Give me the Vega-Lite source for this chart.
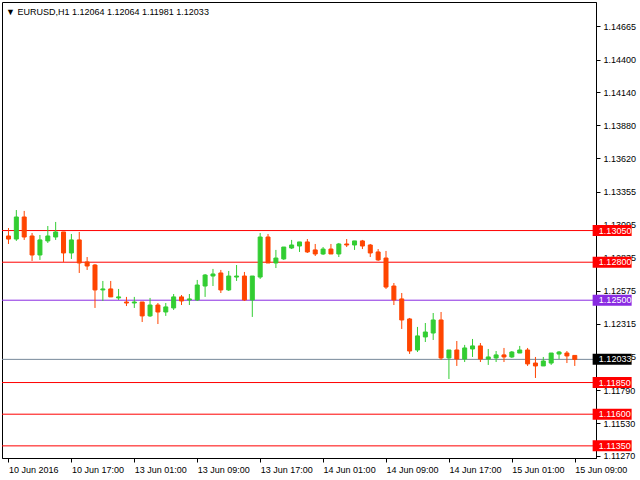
{
  "$schema": "https://vega.github.io/schema/vega-lite/v6.json",
  "width": 594,
  "height": 456,
  "autosize": {"type": "none"},
  "padding": {"left": 2, "top": 2, "right": 44, "bottom": 22},
  "background": "white",
  "title": {
    "text": "▼ EURUSD,H1  1.12064 1.12064 1.11981 1.12033",
    "anchor": "start",
    "orient": "top",
    "frame": "group",
    "offset": -22,
    "baseline": "alphabetic",
    "dx": 4,
    "font": "Liberation Sans",
    "fontSize": 9,
    "fontWeight": "normal",
    "color": "black"
  },
  "datasets": {
    "candles": [
      {"i": 0, "open": 1.13007, "high": 1.13070, "low": 1.12944, "close": 1.12983},
      {"i": 1, "open": 1.12983, "high": 1.13212, "low": 1.12968, "close": 1.13157},
      {"i": 2, "open": 1.13157, "high": 1.13205, "low": 1.12976, "close": 1.12999},
      {"i": 3, "open": 1.13007, "high": 1.13031, "low": 1.12810, "close": 1.12857},
      {"i": 4, "open": 1.12857, "high": 1.13015, "low": 1.12818, "close": 1.12976},
      {"i": 5, "open": 1.12968, "high": 1.13086, "low": 1.12952, "close": 1.13007},
      {"i": 6, "open": 1.12999, "high": 1.13118, "low": 1.12976, "close": 1.13039},
      {"i": 7, "open": 1.13039, "high": 1.13039, "low": 1.12802, "close": 1.12873},
      {"i": 8, "open": 1.12873, "high": 1.13023, "low": 1.12826, "close": 1.12976},
      {"i": 9, "open": 1.12976, "high": 1.13039, "low": 1.12715, "close": 1.12794},
      {"i": 10, "open": 1.12802, "high": 1.12841, "low": 1.12739, "close": 1.12770},
      {"i": 11, "open": 1.12778, "high": 1.12786, "low": 1.12439, "close": 1.12581},
      {"i": 12, "open": 1.12581, "high": 1.12652, "low": 1.12494, "close": 1.12589},
      {"i": 13, "open": 1.12589, "high": 1.12652, "low": 1.12526, "close": 1.12526},
      {"i": 14, "open": 1.12518, "high": 1.12589, "low": 1.12502, "close": 1.12526},
      {"i": 15, "open": 1.12486, "high": 1.12526, "low": 1.12454, "close": 1.12478},
      {"i": 16, "open": 1.12478, "high": 1.12526, "low": 1.12439, "close": 1.12486},
      {"i": 17, "open": 1.12486, "high": 1.12486, "low": 1.12328, "close": 1.12376},
      {"i": 18, "open": 1.12376, "high": 1.12518, "low": 1.12368, "close": 1.12462},
      {"i": 19, "open": 1.12462, "high": 1.12478, "low": 1.12312, "close": 1.12407},
      {"i": 20, "open": 1.12407, "high": 1.12478, "low": 1.12376, "close": 1.12447},
      {"i": 21, "open": 1.12439, "high": 1.12549, "low": 1.12423, "close": 1.12526},
      {"i": 22, "open": 1.12526, "high": 1.12541, "low": 1.12462, "close": 1.12494},
      {"i": 23, "open": 1.12502, "high": 1.12549, "low": 1.12462, "close": 1.12510},
      {"i": 24, "open": 1.12502, "high": 1.12660, "low": 1.12494, "close": 1.12620},
      {"i": 25, "open": 1.12612, "high": 1.12707, "low": 1.12526, "close": 1.12699},
      {"i": 26, "open": 1.12691, "high": 1.12747, "low": 1.12612, "close": 1.12707},
      {"i": 27, "open": 1.12715, "high": 1.12739, "low": 1.12557, "close": 1.12581},
      {"i": 28, "open": 1.12581, "high": 1.12731, "low": 1.12573, "close": 1.12691},
      {"i": 29, "open": 1.12683, "high": 1.12778, "low": 1.12652, "close": 1.12691},
      {"i": 30, "open": 1.12691, "high": 1.12723, "low": 1.12494, "close": 1.12502},
      {"i": 31, "open": 1.12502, "high": 1.12691, "low": 1.12368, "close": 1.12691},
      {"i": 32, "open": 1.12683, "high": 1.13031, "low": 1.12668, "close": 1.12999},
      {"i": 33, "open": 1.12999, "high": 1.13023, "low": 1.12794, "close": 1.12794},
      {"i": 34, "open": 1.12794, "high": 1.12897, "low": 1.12754, "close": 1.12833},
      {"i": 35, "open": 1.12826, "high": 1.12920, "low": 1.12818, "close": 1.12920},
      {"i": 36, "open": 1.12912, "high": 1.12976, "low": 1.12904, "close": 1.12936},
      {"i": 37, "open": 1.12928, "high": 1.12960, "low": 1.12881, "close": 1.12960},
      {"i": 38, "open": 1.12960, "high": 1.12983, "low": 1.12873, "close": 1.12881},
      {"i": 39, "open": 1.12897, "high": 1.12944, "low": 1.12849, "close": 1.12865},
      {"i": 40, "open": 1.12865, "high": 1.12920, "low": 1.12857, "close": 1.12904},
      {"i": 41, "open": 1.12904, "high": 1.12944, "low": 1.12865, "close": 1.12865},
      {"i": 42, "open": 1.12865, "high": 1.12952, "low": 1.12841, "close": 1.12944},
      {"i": 43, "open": 1.12944, "high": 1.12983, "low": 1.12920, "close": 1.12936},
      {"i": 44, "open": 1.12936, "high": 1.12968, "low": 1.12897, "close": 1.12968},
      {"i": 45, "open": 1.12968, "high": 1.12976, "low": 1.12904, "close": 1.12928},
      {"i": 46, "open": 1.12936, "high": 1.12944, "low": 1.12841, "close": 1.12873},
      {"i": 47, "open": 1.12881, "high": 1.12904, "low": 1.12810, "close": 1.12818},
      {"i": 48, "open": 1.12833, "high": 1.12889, "low": 1.12589, "close": 1.12604},
      {"i": 49, "open": 1.12612, "high": 1.12636, "low": 1.12462, "close": 1.12502},
      {"i": 50, "open": 1.12510, "high": 1.12557, "low": 1.12273, "close": 1.12344},
      {"i": 51, "open": 1.12352, "high": 1.12360, "low": 1.12076, "close": 1.12099},
      {"i": 52, "open": 1.12107, "high": 1.12289, "low": 1.12091, "close": 1.12218},
      {"i": 53, "open": 1.12210, "high": 1.12320, "low": 1.12170, "close": 1.12249},
      {"i": 54, "open": 1.12241, "high": 1.12399, "low": 1.12186, "close": 1.12344},
      {"i": 55, "open": 1.12344, "high": 1.12407, "low": 1.12028, "close": 1.12044},
      {"i": 56, "open": 1.12044, "high": 1.12107, "low": 1.11878, "close": 1.12107},
      {"i": 57, "open": 1.12107, "high": 1.12178, "low": 1.11981, "close": 1.12036},
      {"i": 58, "open": 1.12036, "high": 1.12147, "low": 1.12012, "close": 1.12123},
      {"i": 59, "open": 1.12115, "high": 1.12194, "low": 1.12052, "close": 1.12139},
      {"i": 60, "open": 1.12139, "high": 1.12162, "low": 1.12012, "close": 1.12036},
      {"i": 61, "open": 1.12036, "high": 1.12115, "low": 1.11989, "close": 1.12052},
      {"i": 62, "open": 1.12044, "high": 1.12099, "low": 1.12012, "close": 1.12068},
      {"i": 63, "open": 1.12068, "high": 1.12123, "low": 1.12012, "close": 1.12052},
      {"i": 64, "open": 1.12052, "high": 1.12099, "low": 1.12044, "close": 1.12091},
      {"i": 65, "open": 1.12083, "high": 1.12139, "low": 1.12083, "close": 1.12107},
      {"i": 66, "open": 1.12107, "high": 1.12123, "low": 1.11981, "close": 1.11997},
      {"i": 67, "open": 1.12004, "high": 1.12052, "low": 1.11886, "close": 1.11981},
      {"i": 68, "open": 1.11981, "high": 1.12052, "low": 1.11981, "close": 1.12020},
      {"i": 69, "open": 1.12004, "high": 1.12083, "low": 1.11989, "close": 1.12083},
      {"i": 70, "open": 1.12075, "high": 1.12099, "low": 1.12036, "close": 1.12091},
      {"i": 71, "open": 1.12083, "high": 1.12099, "low": 1.12004, "close": 1.12060},
      {"i": 72, "open": 1.12064, "high": 1.12064, "low": 1.11981, "close": 1.12033}
    ],
    "levels": [
      {"price": 1.1305, "kind": "level"},
      {"price": 1.128, "kind": "level"},
      {"price": 1.125, "kind": "pivot"},
      {"price": 1.12033, "kind": "current"},
      {"price": 1.1185, "kind": "level"},
      {"price": 1.116, "kind": "level"},
      {"price": 1.1135, "kind": "level"}
    ]
  },
  "layer": [
    {
      "data": {"name": "levels"},
      "mark": {"type": "rule", "strokeWidth": 1},
      "encoding": {
        "y": {
          "field": "price",
          "type": "quantitative",
          "scale": {"domain": [1.112542, 1.148545], "nice": false, "zero": false},
          "axis": {
            "orient": "right",
            "values": [1.14665, 1.144, 1.1414, 1.1388, 1.1362, 1.13355, 1.13095, 1.12835, 1.12575, 1.12315, 1.12055, 1.1179, 1.1153, 1.1127],
            "format": ".5f",
            "title": null,
            "labelOverlap": false
          }
        },
        "stroke": {
          "field": "kind",
          "type": "nominal",
          "scale": {"domain": ["level", "pivot", "current"], "range": ["#FF0000", "#8A2BE2", "#778899"]},
          "legend": null
        }
      }
    },
    {
      "data": {"name": "candles"},
      "mark": {"type": "rule", "strokeWidth": 1},
      "encoding": {
        "x": {
          "field": "i",
          "type": "quantitative",
          "scale": {"domain": [-0.1875, 74.0625], "nice": false, "zero": false},
          "axis": {
            "values": [0, 8, 16, 24, 32, 40, 48, 56, 64, 72],
            "labelExpr": "['10 Jun 2016','10 Jun 17:00','13 Jun 01:00','13 Jun 09:00','13 Jun 17:00','14 Jun 01:00','14 Jun 09:00','14 Jun 17:00','15 Jun 01:00','15 Jun 09:00'][round(datum.value/8)]",
            "title": null,
            "labelOverlap": false
          }
        },
        "y": {"field": "low", "type": "quantitative", "axis": {"orient": "right", "values": [1.14665, 1.144, 1.1414, 1.1388, 1.1362, 1.13355, 1.13095, 1.12835, 1.12575, 1.12315, 1.12055, 1.1179, 1.1153, 1.1127], "format": ".5f", "title": null, "labelOverlap": false}},
        "y2": {"field": "high"},
        "color": {"condition": {"test": "datum.close >= datum.open", "value": "#32CD32"}, "value": "#FF4500"}
      }
    },
    {
      "data": {"name": "candles"},
      "mark": {"type": "bar", "width": 4, "strokeWidth": 1},
      "encoding": {
        "x": {"field": "i", "type": "quantitative"},
        "y": {"field": "open", "type": "quantitative", "axis": {"orient": "right", "values": [1.14665, 1.144, 1.1414, 1.1388, 1.1362, 1.13355, 1.13095, 1.12835, 1.12575, 1.12315, 1.12055, 1.1179, 1.1153, 1.1127], "format": ".5f", "title": null, "labelOverlap": false}},
        "y2": {"field": "close"},
        "fill": {"condition": {"test": "datum.close >= datum.open", "value": "#32CD32"}, "value": "#FF4500"},
        "stroke": {"condition": {"test": "datum.close >= datum.open", "value": "#32CD32"}, "value": "#FF4500"}
      }
    },
    {
      "data": {"name": "levels"},
      "mark": {"type": "tick", "orient": "horizontal", "size": 39, "thickness": 11, "clip": false, "opacity": 1},
      "encoding": {
        "x": {"datum": 76.75, "type": "quantitative"},
        "y": {"field": "price", "type": "quantitative", "axis": {"orient": "right", "values": [1.14665, 1.144, 1.1414, 1.1388, 1.1362, 1.13355, 1.13095, 1.12835, 1.12575, 1.12315, 1.12055, 1.1179, 1.1153, 1.1127], "format": ".5f", "title": null, "labelOverlap": false}},
        "fill": {
          "field": "kind",
          "type": "nominal",
          "scale": {"domain": ["level", "pivot", "current"], "range": ["#FF0000", "#8A2BE2", "#000000"]},
          "legend": null
        }
      }
    },
    {
      "data": {"name": "levels"},
      "mark": {"type": "text", "align": "left", "baseline": "middle", "font": "Liberation Sans", "fontSize": 9, "color": "white", "clip": false},
      "encoding": {
        "x": {"datum": 75.0625, "type": "quantitative"},
        "y": {"field": "price", "type": "quantitative", "axis": {"orient": "right", "values": [1.14665, 1.144, 1.1414, 1.1388, 1.1362, 1.13355, 1.13095, 1.12835, 1.12575, 1.12315, 1.12055, 1.1179, 1.1153, 1.1127], "format": ".5f", "title": null, "labelOverlap": false}},
        "text": {"field": "price", "type": "quantitative", "format": ".5f"}
      }
    }
  ],
  "config": {
    "view": {"stroke": "black", "strokeWidth": 1},
    "axis": {
      "grid": false,
      "tickSize": 4,
      "tickColor": "black",
      "domainColor": "black",
      "labelFont": "Liberation Sans",
      "labelFontSize": 9,
      "labelColor": "black",
      "labelOverlap": false,
      "labelFlush": false,
      "labelBound": false
    },
    "axisY": {"labelPadding": 3},
    "axisX": {"labelAlign": "left", "labelBaseline": "top", "labelPadding": 3}
  }
}
